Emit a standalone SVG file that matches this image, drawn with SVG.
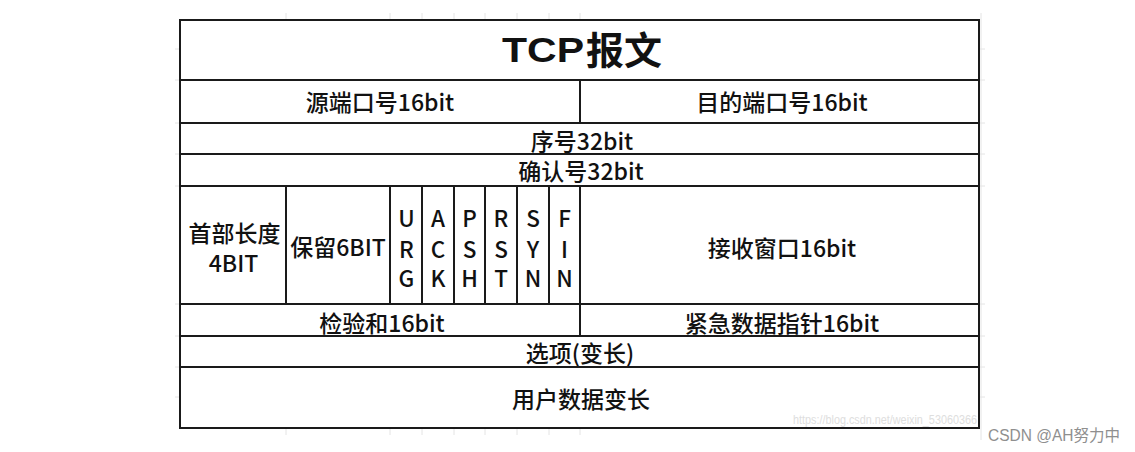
<svg xmlns="http://www.w3.org/2000/svg" width="1135" height="452" viewBox="0 0 1135 452">
  <style>
    .grid { stroke: #e4e4e4; stroke-width: 1; fill: none; }
    .cell { fill: #ffffff; stroke: #1a1a1a; stroke-width: 2; }
    .t { font-family: "Noto Sans CJK SC", "Noto Sans", sans-serif; font-weight: 500; font-size: 23px; fill: #111111; text-anchor: middle; }
    .flag { font-family: "Noto Sans CJK SC", "Noto Sans", sans-serif; font-weight: 500; font-size: 22.5px; fill: #111111; text-anchor: middle; }
    .wm { font-family: "Liberation Sans", sans-serif; font-size: 12px; fill: #dedede; }
    .sig { font-family: "Liberation Sans", "Noto Sans CJK SC", sans-serif; font-size: 16px; fill: #8f8f8f; }
  </style>
  <rect x="0" y="0" width="1135" height="452" fill="#ffffff"/>

  <g id="background-grid" class="grid">
    <line x1="175" y1="49" x2="985" y2="49"/>
    <line x1="175" y1="80" x2="985" y2="80"/>
    <line x1="175" y1="123" x2="985" y2="123"/>
    <line x1="175" y1="154" x2="985" y2="154"/>
    <line x1="175" y1="186" x2="985" y2="186"/>
    <line x1="175" y1="304" x2="985" y2="304"/>
    <line x1="175" y1="336" x2="985" y2="336"/>
    <line x1="175" y1="367" x2="985" y2="367"/>
    <line x1="175" y1="397" x2="985" y2="397"/>
    <line x1="286" y1="13" x2="286" y2="435"/>
    <line x1="390" y1="13" x2="390" y2="435"/>
    <line x1="422" y1="13" x2="422" y2="435"/>
    <line x1="454" y1="13" x2="454" y2="435"/>
    <line x1="485" y1="13" x2="485" y2="435"/>
    <line x1="517" y1="13" x2="517" y2="435"/>
    <line x1="549" y1="13" x2="549" y2="435"/>
    <line x1="580" y1="13" x2="580" y2="435"/>
    <line x1="981" y1="13" x2="981" y2="440"/>
  </g>

  <g id="title">
    <rect class="cell" x="180" y="20" width="799" height="60"/>
    <text font-family="'Liberation Sans', sans-serif" font-weight="bold" font-size="35" fill="#111111" x="502" y="62" textLength="82" lengthAdjust="spacingAndGlyphs">TCP</text>
    <text font-family="'Noto Sans CJK SC', sans-serif" font-weight="bold" font-size="38" fill="#111111" x="586" y="64">报文</text>
  </g>

  <g id="src-port">
    <rect class="cell" x="180" y="80" width="400" height="43"/>
    <text class="t" x="380" y="110.5">源端口号16bit</text>
  </g>
  <g id="dst-port">
    <rect class="cell" x="580" y="80" width="399" height="43"/>
    <text class="t" x="782" y="110.5">目的端口号16bit</text>
  </g>

  <g id="seq">
    <rect class="cell" x="180" y="123" width="799" height="31"/>
    <text class="t" x="582" y="149.5">序号32bit</text>
  </g>
  <g id="ack">
    <rect class="cell" x="180" y="154" width="799" height="32"/>
    <text class="t" x="581" y="180">确认号32bit</text>
  </g>

  <g id="header-length">
    <rect class="cell" x="180" y="186" width="106" height="118"/>
    <text class="t" x="234.5" y="242">首部长度</text>
    <text class="t" x="233.5" y="271.5">4BIT</text>
  </g>
  <g id="reserved">
    <rect class="cell" x="286" y="186" width="104" height="118"/>
    <text class="t" x="338" y="256">保留6BIT</text>
  </g>
  <g id="flag-urg">
    <rect class="cell" x="390" y="186" width="32" height="118"/>
    <text class="flag" x="406.5"><tspan x="406.5" y="226.5">U</tspan><tspan x="406.5" y="258">R</tspan><tspan x="406.5" y="286.5">G</tspan></text>
  </g>
  <g id="flag-ack">
    <rect class="cell" x="422" y="186" width="32" height="118"/>
    <text class="flag" x="438"><tspan x="438" y="226.5">A</tspan><tspan x="438" y="258">C</tspan><tspan x="438" y="286.5">K</tspan></text>
  </g>
  <g id="flag-psh">
    <rect class="cell" x="454" y="186" width="31" height="118"/>
    <text class="flag" x="469.5"><tspan x="469.5" y="226.5">P</tspan><tspan x="469.5" y="258">S</tspan><tspan x="469.5" y="286.5">H</tspan></text>
  </g>
  <g id="flag-rst">
    <rect class="cell" x="485" y="186" width="32" height="118"/>
    <text class="flag" x="501"><tspan x="501" y="226.5">R</tspan><tspan x="501" y="258">S</tspan><tspan x="501" y="286.5">T</tspan></text>
  </g>
  <g id="flag-syn">
    <rect class="cell" x="517" y="186" width="32" height="118"/>
    <text class="flag" x="533"><tspan x="533" y="226.5">S</tspan><tspan x="533" y="258">Y</tspan><tspan x="533" y="286.5">N</tspan></text>
  </g>
  <g id="flag-fin">
    <rect class="cell" x="549" y="186" width="31" height="118"/>
    <text class="flag" x="564.5"><tspan x="564.5" y="226.5">F</tspan><tspan x="564.5" y="258">I</tspan><tspan x="564.5" y="286.5">N</tspan></text>
  </g>
  <g id="window">
    <rect class="cell" x="580" y="186" width="399" height="118"/>
    <text class="t" x="782" y="257">接收窗口16bit</text>
  </g>

  <g id="checksum">
    <rect class="cell" x="180" y="304" width="400" height="32"/>
    <text class="t" x="382" y="332">检验和16bit</text>
  </g>
  <g id="urgent-pointer">
    <rect class="cell" x="580" y="304" width="399" height="32"/>
    <text class="t" x="782" y="332">紧急数据指针16bit</text>
  </g>

  <g id="options">
    <rect class="cell" x="180" y="336" width="799" height="31"/>
    <text class="t" x="580" y="362">选项(变长)</text>
  </g>
  <g id="data">
    <rect class="cell" x="180" y="367" width="799" height="61"/>
    <text class="t" x="581" y="408">用户数据变长</text>
  </g>

  <g id="connectors"></g>

  <text class="wm" x="793" y="424" textLength="184" lengthAdjust="spacingAndGlyphs">https://blog.csdn.net/weixin_53060366</text>
  <text class="sig" x="988" y="441" textLength="132" lengthAdjust="spacingAndGlyphs">CSDN @AH努力中</text>
</svg>
